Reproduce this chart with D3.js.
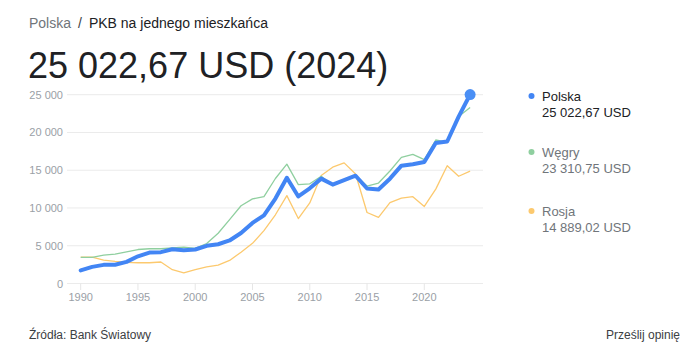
<!DOCTYPE html>
<html>
<head>
<meta charset="utf-8">
<script src="https://cdn.jsdelivr.net/npm/d3@7"></script>
<style>
  html, body { margin: 0; padding: 0; background: #fff; }
  svg { display: block; font-family: Arial, "Liberation Sans", Helvetica, sans-serif; }
</style>
</head>
<body>
<svg id="chart" width="699" height="361"></svg>
<script>
const years = d3.range(1990, 2025);
const polska = [1731, 2200, 2470, 2490, 2870, 3600, 4100, 4150, 4530, 4400, 4500, 4990, 5200, 5700, 6680, 8020, 9030, 11250, 14000, 11530, 12610, 13890, 13100, 13690, 14270, 12580, 12450, 13880, 15600, 15800, 16100, 18600, 18800, 22100, 25022.67];
const wegry = [3450, 3450, 3750, 3900, 4200, 4500, 4600, 4600, 4700, 4800, 4650, 5300, 6650, 8450, 10300, 11200, 11500, 13900, 15800, 13100, 13200, 14200, 12950, 13700, 14300, 12900, 13300, 14900, 16700, 17100, 16400, 19000, 18700, 22100, 23310.75];
const rosja = [3500, 3490, 3100, 2930, 2800, 2750, 2750, 2850, 1830, 1420, 1850, 2200, 2420, 3050, 4150, 5320, 7000, 9100, 11640, 8600, 10670, 14300, 15400, 15970, 14500, 9400, 8750, 10700, 11300, 11500, 10200, 12500, 15600, 14200, 14889.02];
const seriesNames = ["Polska", "Węgry", "Rosja"];
const seriesLabels = ["25 022,67 USD", "23 310,75 USD", "14 889,02 USD"];
const yTicks = [0, 5000, 10000, 15000, 20000, 25000];
const xTicks = [1990, 1995, 2000, 2005, 2010, 2015, 2020];

const svg = d3.select("#chart");
const x = d3.scaleLinear().domain([1990, 2020]).range([80.7, 424.3]);
const y = d3.scaleLinear().domain([0, 25000]).range([283.5, 94.7]);
const fmt = v => d3.format(",")(v).replace(/,/g, " ");

// Header
const hdr = svg.append("text").attr("x", 29).attr("y", 28).attr("font-size", 14);
hdr.append("tspan").attr("fill", "#70757a").text("Polska");
hdr.append("tspan").attr("dx", 7).attr("fill", "#3c4043").text("/");
hdr.append("tspan").attr("dx", 7).attr("fill", "#202124").text("PKB na jednego mieszkańca");

svg.append("text").attr("x", 28).attr("y", 78).attr("font-size", 36)
  .attr("fill", "#202124").text("25 022,67 USD (2024)");

// Grid
const gl = 67, gr = 483;
svg.append("g").selectAll("line").data(yTicks).join("line")
  .attr("x1", gl).attr("x2", gr)
  .attr("y1", d => y(d)).attr("y2", d => y(d))
  .attr("stroke", "#ebebeb").attr("stroke-width", 1);

svg.append("g").selectAll("text").data(yTicks).join("text")
  .attr("x", 63).attr("y", d => y(d) + 4)
  .attr("text-anchor", "end").attr("font-size", 11).attr("fill", "#9aa0a6")
  .text(d => fmt(d));

// X axis ticks
svg.append("g").selectAll("line").data(xTicks).join("line")
  .attr("x1", d => x(d)).attr("x2", d => x(d))
  .attr("y1", 283.5).attr("y2", 290)
  .attr("stroke", "#e6e6e6");
svg.append("g").selectAll("text").data(xTicks).join("text")
  .attr("x", d => x(d)).attr("y", 301)
  .attr("text-anchor", "middle").attr("font-size", 11).attr("fill", "#9aa0a6")
  .text(d => d);

const line = d3.line().x((d, i) => x(years[i])).y(d => y(d));

svg.append("path").datum(rosja).attr("d", line)
  .attr("fill", "none").attr("stroke", "#fcc96e").attr("stroke-width", 1.3).attr("stroke-linejoin", "round");
svg.append("path").datum(wegry).attr("d", line)
  .attr("fill", "none").attr("stroke", "#8fcf9f").attr("stroke-width", 1.3).attr("stroke-linejoin", "round");
svg.append("path").datum(polska).attr("d", line)
  .attr("fill", "none").attr("stroke", "#4285f4").attr("stroke-width", 4).attr("stroke-linejoin", "round").attr("stroke-linecap", "round");

svg.append("circle")
  .attr("cx", x(years[years.length - 1])).attr("cy", y(polska[polska.length - 1]))
  .attr("r", 5.5).attr("fill", "#4a8ff5");

// Legend
const legColors = ["#4285f4", "#8fcf9f", "#fcc96e"];
const legTextColors = ["#202124", "#70757a", "#70757a"];
const legY = [96, 152, 211];
seriesNames.forEach((n, i) => {
  svg.append("circle").attr("cx", 531.5).attr("cy", legY[i]).attr("r", 3).attr("fill", legColors[i]);
  svg.append("text").attr("x", 542).attr("y", legY[i] + 4.5).attr("font-size", 13)
    .attr("fill", legTextColors[i]).text(n);
  svg.append("text").attr("x", 542).attr("y", legY[i] + 20.5).attr("font-size", 13)
    .attr("fill", legTextColors[i]).text(seriesLabels[i]);
});

// Footer
svg.append("text").attr("x", 29).attr("y", 339).attr("font-size", 12).attr("fill", "#3c4043")
  .text("Źródła: Bank Światowy");
svg.append("text").attr("x", 680).attr("y", 339).attr("font-size", 12).attr("fill", "#3c4043")
  .attr("text-anchor", "end").text("Prześlij opinię");
</script>
</body>
</html>
